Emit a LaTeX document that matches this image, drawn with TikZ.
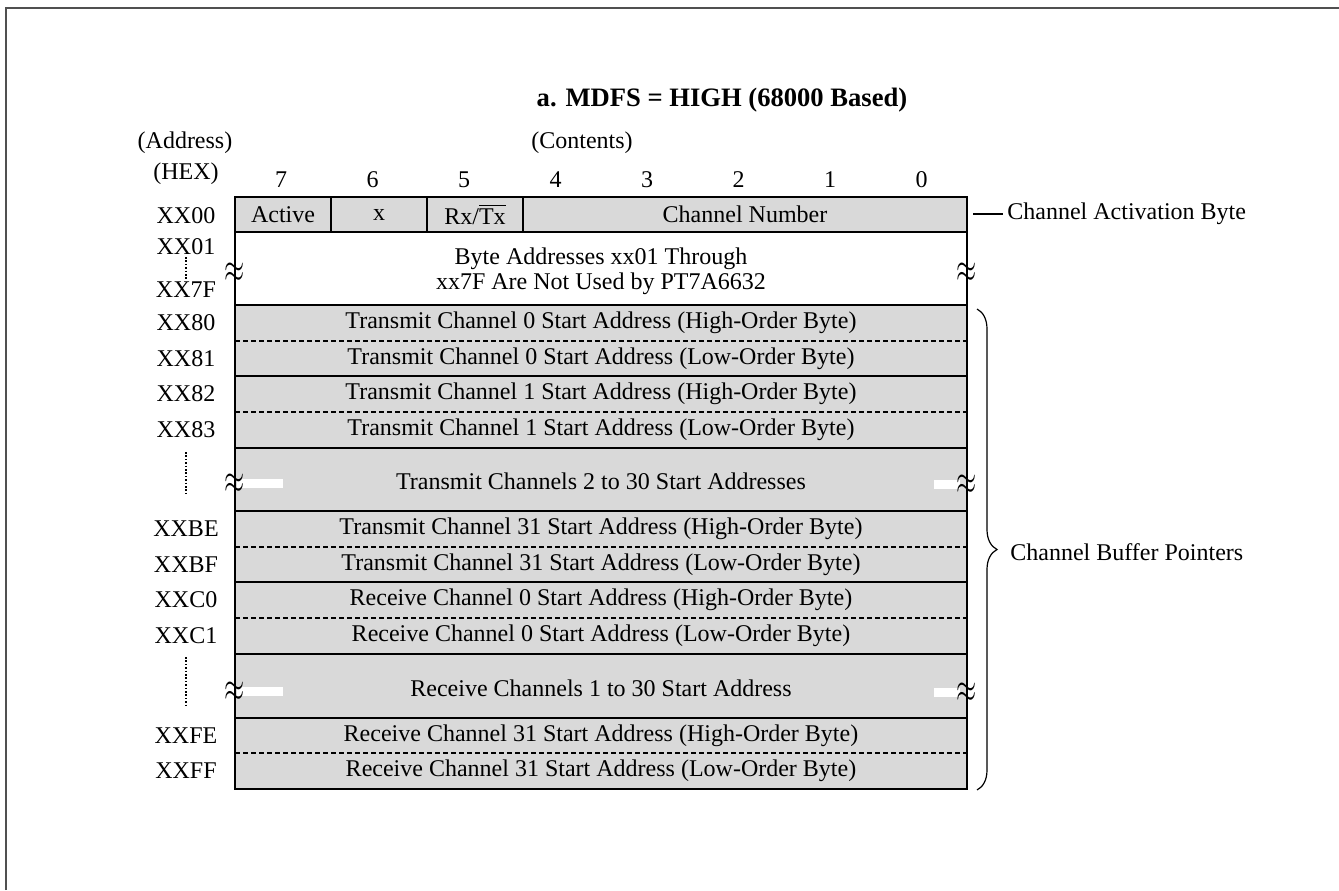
\documentclass[tikz,border=0pt]{standalone}
\usepackage{fontspec}
\setmainfont{Liberation Serif}
\usepackage{tikz}
\usetikzlibrary{calc,decorations.pathreplacing}
\definecolor{cellgray}{RGB}{217,217,217}
\definecolor{framegray}{RGB}{80,80,80}

\begin{document}
\begin{tikzpicture}[x=0.5pt,y=-0.5pt,font=\fontsize{12}{14}\selectfont,
    rule/.style={line width=1.3pt},
    halfrule/.style={line width=1pt,dash pattern=on 2.5pt off 1.5pt},
    dotcol/.style={line width=1pt,dash pattern=on 0.8pt off 0.9pt},
    waves/.style={inner sep=0pt,font=\fontsize{15}{15}\selectfont},
    gapbar/.style={fill=white}]
\useasboundingbox (0,0) rectangle (1339,890);
\draw[framegray,line width=1pt] (6,890) -- (6,8) -- (1339,8);

% heading
\node[font=\fontsize{13.3}{15}\selectfont\bfseries] (title) at (722,100) {a. MDFS = HIGH (68000 Based)};
\node (addrcap) at (185,143) {(Address)};
\node (hexcap) at (186,174) {(HEX)};
\node (contcap) at (582,143) {(Contents)};
\foreach \b [count=\i from 0] in {7,...,0}
  \node (bit\b) at (281+91.5*\i,180) {\b};

% shaded bytes
\fill[cellgray] (235,197) rectangle (967,232);
\fill[cellgray] (235,305) rectangle (967,789);
\fill[gapbar] (237,479) rectangle (283,488);
\fill[gapbar] (934,480) rectangle (960,489);
\fill[gapbar] (237,687) rectangle (283,696);
\fill[gapbar] (934,688) rectangle (960,697);

% outline and byte borders
\draw[rule] (235,197) rectangle (967,789);
\draw[rule] (331,197) -- (331,232);
\draw[rule] (427,197) -- (427,232);
\draw[rule] (523,197) -- (523,232);
\foreach \y in {232,305,376,448,511,582,654,718}
  \draw[rule] (235,\y) -- (967,\y);
\foreach \y in {341,412,547,618,753}
  \draw[halfrule] (235,\y) -- (967,\y);

% break marks
\node[waves] (brkA) at (235,273) {\scalebox{0.9}[1.4]{$\approx$}};
\node[waves] (brkB) at (967,273) {\scalebox{0.9}[1.4]{$\approx$}};
\node[waves] (brkC) at (235,484) {\scalebox{0.9}[1.4]{$\approx$}};
\node[waves] (brkD) at (967,485) {\scalebox{0.9}[1.4]{$\approx$}};
\node[waves] (brkE) at (235,692) {\scalebox{0.9}[1.4]{$\approx$}};
\node[waves] (brkF) at (967,693) {\scalebox{0.9}[1.4]{$\approx$}};

% contents
\node (act) at (283,214.5) {Active};
\node (xbit) at (379,214.5) {x};
\node (rxtx) at (475,214.5) {Rx/$\overline{\hbox{Tx}}$};
\node (chnum) at (745,214.5) {Channel Number};
\node[align=center,font=\fontsize{12}{12.5}\selectfont] (unused) at (601,271) {Byte Addresses xx01 Through\\xx7F Are Not Used by PT7A6632};
\node (tx0h) at (601,323) {Transmit Channel 0 Start Address (High-Order Byte)};
\node (tx0l) at (601,358.5) {Transmit Channel 0 Start Address (Low-Order Byte)};
\node (tx1h) at (601,394) {Transmit Channel 1 Start Address (High-Order Byte)};
\node (tx1l) at (601,430) {Transmit Channel 1 Start Address (Low-Order Byte)};
\node (txmid) at (601,481) {Transmit Channels 2 to 30 Start Addresses};
\node (tx31h) at (601,529) {Transmit Channel 31 Start Address (High-Order Byte)};
\node (tx31l) at (601,564.5) {Transmit Channel 31 Start Address (Low-Order Byte)};
\node (rx0h) at (601,600) {Receive Channel 0 Start Address (High-Order Byte)};
\node (rx0l) at (601,636) {Receive Channel 0 Start Address (Low-Order Byte)};
\node (rxmid) at (601,688) {Receive Channels 1 to 30 Start Address};
\node (rx31h) at (601,735.5) {Receive Channel 31 Start Address (High-Order Byte)};
\node (rx31l) at (601,771) {Receive Channel 31 Start Address (Low-Order Byte)};

% addresses
\node (a00) at (186,216) {XX00};
\node (a01) at (186,247) {XX01};
\node (a7F) at (186,290) {XX7F};
\node (a80) at (186,323) {XX80};
\node (a81) at (186,358.5) {XX81};
\node (a82) at (186,394) {XX82};
\node (a83) at (186,430) {XX83};
\node (aBE) at (186,529) {XXBE};
\node (aBF) at (186,564.5) {XXBF};
\node (aC0) at (186,600) {XXC0};
\node (aC1) at (186,636) {XXC1};
\node (aFE) at (186,735.5) {XXFE};
\node (aFF) at (186,771) {XXFF};
\draw[dotcol] (186,257) -- (186,280);
\draw[dotcol] (186,452) -- (186,493);
\draw[dotcol] (186,657) -- (186,705);

% side notes
\coordinate (actend) at (973,214);
\node[anchor=west,inner sep=2pt] (actlab) at (1003,214) {Channel Activation Byte};
\draw[line width=0.6pt] (actend) -- (actlab.west);
\draw[line width=0.6pt,decorate,decoration={brace,amplitude=10pt}] (977,309) -- (977,790) coordinate[pos=0.5] (ptrmid);
\node[anchor=west,inner sep=2pt] (ptrlab) at (1006,552) {Channel Buffer Pointers};
\end{tikzpicture}
\end{document}
